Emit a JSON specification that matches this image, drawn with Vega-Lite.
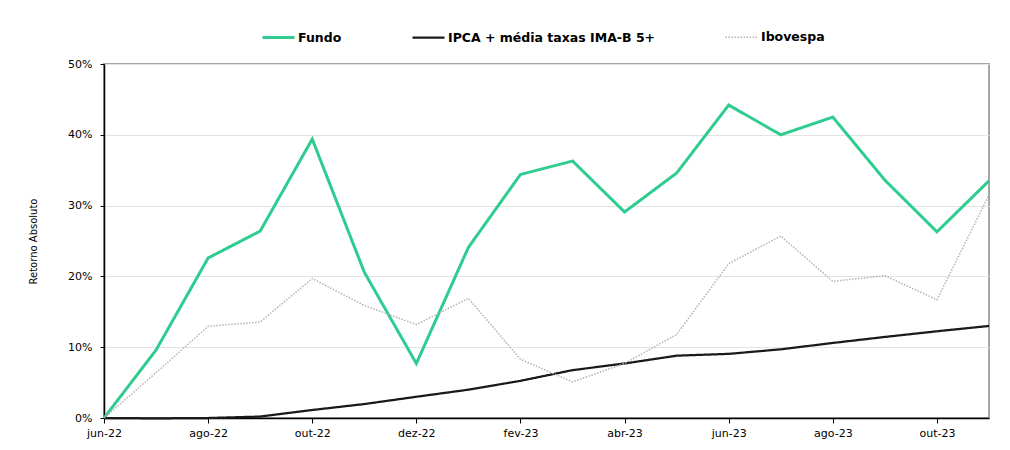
{
  "$schema": "https://vega.github.io/schema/vega-lite/v6.json",
  "autosize": {"type": "none"},
  "padding": {"left": 104, "top": 64, "right": 21, "bottom": 32},
  "width": 885,
  "height": 354,
  "background": "white",
  "config": {
    "view": {"stroke": "#a6a6a6", "strokeWidth": 2},
    "font": "DejaVu Sans"
  },
  "data": {
    "values": [
      {"mes": "jun-22", "serie": "Fundo", "valor": 0.0},
      {"mes": "jul-22", "serie": "Fundo", "valor": 0.096},
      {"mes": "ago-22", "serie": "Fundo", "valor": 0.226},
      {"mes": "set-22", "serie": "Fundo", "valor": 0.264},
      {"mes": "out-22", "serie": "Fundo", "valor": 0.394},
      {"mes": "nov-22", "serie": "Fundo", "valor": 0.206},
      {"mes": "dez-22", "serie": "Fundo", "valor": 0.077},
      {"mes": "jan-23", "serie": "Fundo", "valor": 0.241},
      {"mes": "fev-23", "serie": "Fundo", "valor": 0.344},
      {"mes": "mar-23", "serie": "Fundo", "valor": 0.363},
      {"mes": "abr-23", "serie": "Fundo", "valor": 0.291},
      {"mes": "mai-23", "serie": "Fundo", "valor": 0.346},
      {"mes": "jun-23", "serie": "Fundo", "valor": 0.442},
      {"mes": "jul-23", "serie": "Fundo", "valor": 0.400},
      {"mes": "ago-23", "serie": "Fundo", "valor": 0.425},
      {"mes": "set-23", "serie": "Fundo", "valor": 0.336},
      {"mes": "out-23", "serie": "Fundo", "valor": 0.263},
      {"mes": "nov-23", "serie": "Fundo", "valor": 0.335},
      {"mes": "jun-22", "serie": "IPCA + média taxas IMA-B 5+", "valor": 0.0},
      {"mes": "jul-22", "serie": "IPCA + média taxas IMA-B 5+", "valor": -0.0005},
      {"mes": "ago-22", "serie": "IPCA + média taxas IMA-B 5+", "valor": 0.0},
      {"mes": "set-22", "serie": "IPCA + média taxas IMA-B 5+", "valor": 0.002},
      {"mes": "out-22", "serie": "IPCA + média taxas IMA-B 5+", "valor": 0.0113},
      {"mes": "nov-22", "serie": "IPCA + média taxas IMA-B 5+", "valor": 0.0197},
      {"mes": "dez-22", "serie": "IPCA + média taxas IMA-B 5+", "valor": 0.030},
      {"mes": "jan-23", "serie": "IPCA + média taxas IMA-B 5+", "valor": 0.040},
      {"mes": "fev-23", "serie": "IPCA + média taxas IMA-B 5+", "valor": 0.0525},
      {"mes": "mar-23", "serie": "IPCA + média taxas IMA-B 5+", "valor": 0.0676},
      {"mes": "abr-23", "serie": "IPCA + média taxas IMA-B 5+", "valor": 0.077},
      {"mes": "mai-23", "serie": "IPCA + média taxas IMA-B 5+", "valor": 0.088},
      {"mes": "jun-23", "serie": "IPCA + média taxas IMA-B 5+", "valor": 0.0906},
      {"mes": "jul-23", "serie": "IPCA + média taxas IMA-B 5+", "valor": 0.097},
      {"mes": "ago-23", "serie": "IPCA + média taxas IMA-B 5+", "valor": 0.106},
      {"mes": "set-23", "serie": "IPCA + média taxas IMA-B 5+", "valor": 0.1145},
      {"mes": "out-23", "serie": "IPCA + média taxas IMA-B 5+", "valor": 0.1225},
      {"mes": "nov-23", "serie": "IPCA + média taxas IMA-B 5+", "valor": 0.130},
      {"mes": "jun-22", "serie": "Ibovespa", "valor": 0.0},
      {"mes": "jul-22", "serie": "Ibovespa", "valor": 0.064},
      {"mes": "ago-22", "serie": "Ibovespa", "valor": 0.1296},
      {"mes": "set-22", "serie": "Ibovespa", "valor": 0.1356},
      {"mes": "out-22", "serie": "Ibovespa", "valor": 0.197},
      {"mes": "nov-22", "serie": "Ibovespa", "valor": 0.159},
      {"mes": "dez-22", "serie": "Ibovespa", "valor": 0.132},
      {"mes": "jan-23", "serie": "Ibovespa", "valor": 0.169},
      {"mes": "fev-23", "serie": "Ibovespa", "valor": 0.083},
      {"mes": "mar-23", "serie": "Ibovespa", "valor": 0.051},
      {"mes": "abr-23", "serie": "Ibovespa", "valor": 0.077},
      {"mes": "mai-23", "serie": "Ibovespa", "valor": 0.118},
      {"mes": "jun-23", "serie": "Ibovespa", "valor": 0.218},
      {"mes": "jul-23", "serie": "Ibovespa", "valor": 0.257},
      {"mes": "ago-23", "serie": "Ibovespa", "valor": 0.193},
      {"mes": "set-23", "serie": "Ibovespa", "valor": 0.201},
      {"mes": "out-23", "serie": "Ibovespa", "valor": 0.167},
      {"mes": "nov-23", "serie": "Ibovespa", "valor": 0.315}
    ]
  },
  "mark": {"type": "line", "clip": false},
  "encoding": {
    "x": {
      "field": "mes",
      "type": "ordinal",
      "sort": null,
      "scale": {"type": "point", "padding": 0},
      "axis": {
        "title": null,
        "values": ["jun-22", "ago-22", "out-22", "dez-22", "fev-23", "abr-23", "jun-23", "ago-23", "out-23"],
        "labelAngle": 0,
        "labelFontSize": 11,
        "labelColor": "#000000",
        "labelPadding": 4,
        "domainColor": "#000000",
        "domainWidth": 1.5,
        "tickColor": "#000000",
        "tickSize": 5,
        "grid": false
      }
    },
    "y": {
      "field": "valor",
      "type": "quantitative",
      "scale": {"domain": [0, 0.5], "nice": false, "zero": true},
      "axis": {
        "title": "Retorno Absoluto",
        "titleFontSize": 10,
        "titleFontWeight": "normal",
        "titleColor": "#000000",
        "titlePadding": 29,
        "values": [0, 0.1, 0.2, 0.3, 0.4, 0.5],
        "format": ".0%",
        "labelFontSize": 11,
        "labelColor": "#000000",
        "labelPadding": 8,
        "domainColor": "#000000",
        "domainWidth": 1.5,
        "tickColor": "#000000",
        "tickSize": 4,
        "gridColor": "#e3e3e3",
        "gridWidth": 1
      }
    },
    "color": {
      "field": "serie",
      "type": "nominal",
      "scale": {
        "domain": ["Fundo", "IPCA + média taxas IMA-B 5+", "Ibovespa"],
        "range": ["#2ecc8e", "#1a1a1a", "#b3b3b3"]
      },
      "legend": {
        "title": null,
        "orient": "none",
        "legendX": 157,
        "legendY": -44,
        "direction": "horizontal",
        "columns": 3,
        "columnPadding": 66,
        "symbolType": "stroke",
        "symbolSize": 1024,
        "labelFontSize": 12.5,
        "labelFontWeight": "bold",
        "labelColor": "#000000",
        "labelOffset": 2,
        "labelLimit": 400
      }
    },
    "strokeWidth": {
      "field": "serie",
      "type": "nominal",
      "scale": {
        "domain": ["Fundo", "IPCA + média taxas IMA-B 5+", "Ibovespa"],
        "range": [3, 1.5, 1]
      },
      "legend": null
    },
    "strokeDash": {
      "field": "serie",
      "type": "nominal",
      "scale": {
        "domain": ["Fundo", "IPCA + média taxas IMA-B 5+", "Ibovespa"],
        "range": [[1, 0], [1, 0], [1.5, 1.5]]
      },
      "legend": null
    }
  }
}
